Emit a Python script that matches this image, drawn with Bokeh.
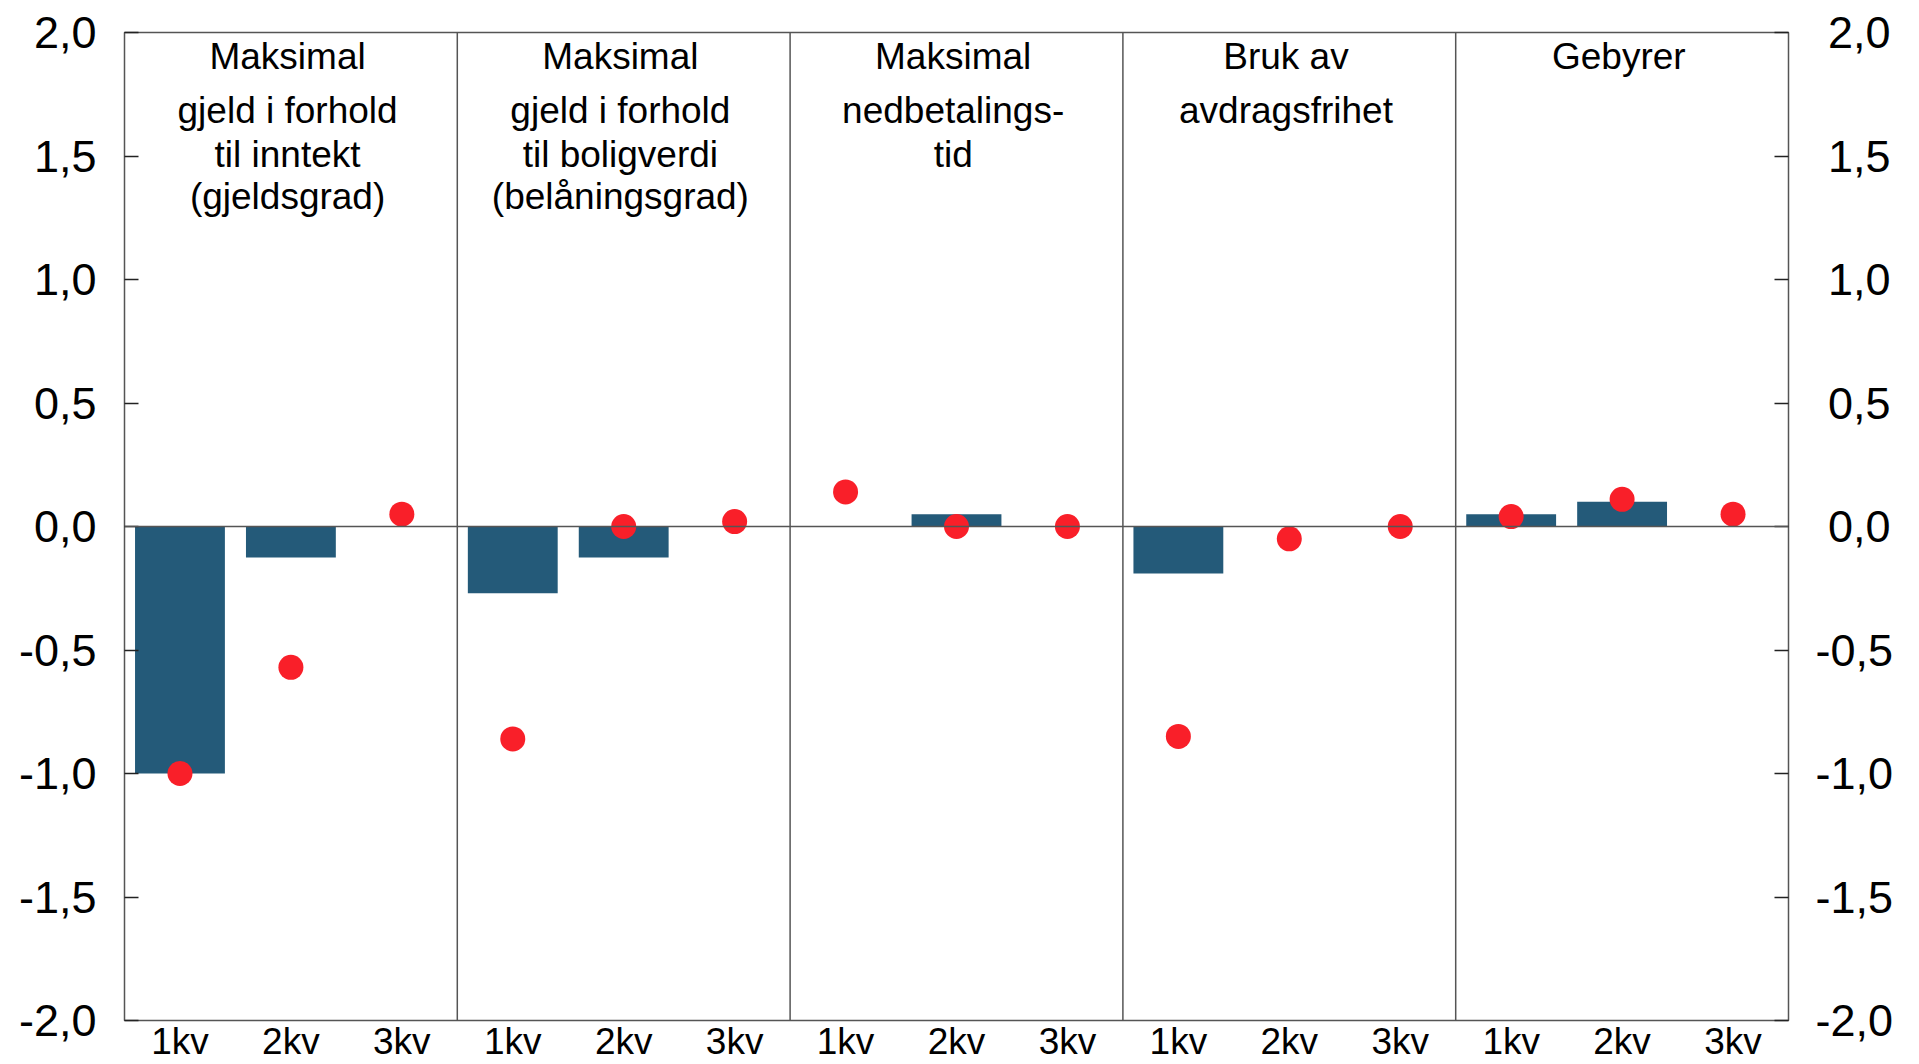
from bokeh.plotting import figure
from bokeh.models import ColumnDataSource, Range1d, FixedTicker, Span, LinearAxis
from bokeh.embed import file_html
from bokeh.resources import INLINE
from bokeh.core.properties import value

# ---- data ----
group_titles = [
    ["Maksimal", "gjeld i forhold", "til inntekt", "(gjeldsgrad)"],
    ["Maksimal", "gjeld i forhold", "til boligverdi", "(belåningsgrad)"],
    ["Maksimal", "nedbetalings-", "tid"],
    ["Bruk av", "avdragsfrihet"],
    ["Gebyrer"],
]
quarters = ["1kv", "2kv", "3kv"]
bar_values = [-1.0, -0.125, 0.0,
              -0.27, -0.125, 0.0,
              0.0, 0.05, 0.0,
              -0.19, 0.0, 0.0,
              0.05, 0.10, 0.0]
dot_values = [-1.0, -0.57, 0.05,
              -0.86, 0.0, 0.02,
              0.14, 0.0, 0.0,
              -0.85, -0.05, 0.0,
              0.04, 0.11, 0.05]
y_ticks = [-2.0, -1.5, -1.0, -0.5, 0.0, 0.5, 1.0, 1.5, 2.0]
y_tick_labels = ["-2,0", "-1,5", "-1,0", "-0,5", "0,0", "0,5", "1,0", "1,5", "2,0"]

# ---- layout constants ----
FONT = "Liberation Sans"
BAR_COLOR = "#245a79"
DOT_COLOR = "#f91f29"
LINE_COLOR = "#555555"
title_line_y = [1.903, 1.685, 1.508, 1.335]

n_groups = len(group_titles)
n_q = len(quarters)
xs = [g * n_q + q + 0.5 for g in range(n_groups) for q in range(n_q)]
xlabels = [quarters[q] for g in range(n_groups) for q in range(n_q)]

src = ColumnDataSource(dict(x=xs, bar=bar_values, dot=dot_values))

tx, ty, tt = [], [], []
for g, lines in enumerate(group_titles):
    for li, line in enumerate(lines):
        tx.append(g * n_q + n_q / 2 - 0.03)
        ty.append(title_line_y[li])
        tt.append(line)
tsrc = ColumnDataSource(dict(x=tx, y=ty, text=tt))

p = figure(width=1919, height=1064, output_backend="svg", toolbar_location=None,
           x_range=Range1d(0, n_groups * n_q), y_range=Range1d(-2.0, 2.0),
           min_border_left=124, min_border_right=131, min_border_top=32, min_border_bottom=44,
           x_axis_location=None)
p.background_fill_color = "white"
p.border_fill_color = "white"
p.outline_line_color = LINE_COLOR
p.outline_line_width = 1.5
p.xgrid.visible = False
p.ygrid.visible = False

# bars
p.vbar(x="x", top="bar", bottom=0, width=0.81, source=src, fill_color=BAR_COLOR, line_color=None)

# zero line and group separators
p.add_layout(Span(location=0, dimension="width", line_color=LINE_COLOR, line_width=1.5))
for g in range(1, n_groups):
    p.add_layout(Span(location=g * n_q, dimension="height", line_color=LINE_COLOR, line_width=1.5))

# dots
p.scatter(x="x", y="dot", size=25, source=src, fill_color=DOT_COLOR, line_color=None)

# group titles
p.text(x="x", y="y", text="text", source=tsrc, text_font=value(FONT), text_font_size="37px",
       text_align="center", text_baseline="alphabetic", text_color="black")

# x axis with quarter labels
xaxis = LinearAxis()
xaxis.ticker = FixedTicker(ticks=xs)
xaxis.major_label_overrides = {x: l for x, l in zip(xs, xlabels)}
xaxis.axis_line_color = None
xaxis.major_tick_in = 0
xaxis.major_tick_out = 0
xaxis.minor_tick_line_color = None
xaxis.major_label_text_font = FONT
xaxis.major_label_text_font_size = "37px"
xaxis.major_label_text_color = "black"
xaxis.major_label_standoff = 0
p.add_layout(xaxis, "below")

# y axes
def style_axis(ax, labels, standoff):
    ax.ticker = FixedTicker(ticks=y_ticks)
    ax.major_label_overrides = {t: l for t, l in zip(y_ticks, labels)}
    ax.axis_line_color = None
    ax.major_tick_in = 14
    ax.major_tick_out = 0
    ax.minor_tick_line_color = None
    ax.major_tick_line_color = "#222222"
    ax.major_tick_line_width = 1.5
    ax.major_label_text_font = FONT
    ax.major_label_text_font_size = "45px"
    ax.major_label_text_color = "black"
    ax.major_label_standoff = standoff

style_axis(p.yaxis[0], y_tick_labels, 28)
right = LinearAxis()
right_labels = [l if l.startswith("-") else "\u00a0" + l for l in y_tick_labels]
style_axis(right, right_labels, 27)
p.add_layout(right, "right")

open("out.html", "w").write(file_html(p, INLINE))
